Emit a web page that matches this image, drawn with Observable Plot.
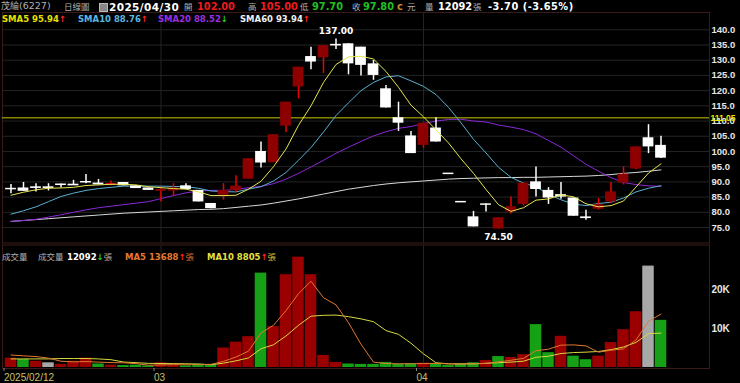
<!DOCTYPE html>
<html><head><meta charset="utf-8">
<script src="https://cdn.jsdelivr.net/npm/d3@7"></script>
<script src="https://cdn.jsdelivr.net/npm/@observablehq/plot@0.6"></script>
<style>
html,body{margin:0;padding:0;background:#000;}
#wrap{position:relative;width:740px;height:383px;overflow:hidden;background:#000;font-family:"DejaVu Sans",sans-serif;}
.t{position:absolute;white-space:nowrap;line-height:1;}
.cj{font-family:"Noto Sans CJK TC",sans-serif;color:#b0b0b0;font-size:8.5px;}
.b{font-weight:bold;font-size:9.8px;}
.lg{font-weight:bold;font-size:8.5px;}
svg{position:absolute;left:0;}
</style></head><body><div id="wrap"></div>
<script>
// ---- data ----
const dates = ["2025/02/12","2025/02/13","2025/02/14","2025/02/17","2025/02/18","2025/02/19","2025/02/20","2025/02/21","2025/02/24","2025/02/25","2025/02/26","2025/02/27",
"2025/03/03","2025/03/04","2025/03/05","2025/03/06","2025/03/07","2025/03/10","2025/03/11","2025/03/12","2025/03/13","2025/03/14","2025/03/17","2025/03/18","2025/03/19","2025/03/20","2025/03/21","2025/03/24","2025/03/25","2025/03/26","2025/03/27","2025/03/28","2025/03/31",
"2025/04/01","2025/04/02","2025/04/07","2025/04/08","2025/04/09","2025/04/10","2025/04/11","2025/04/14","2025/04/15","2025/04/16","2025/04/17","2025/04/18","2025/04/21","2025/04/22","2025/04/23","2025/04/24","2025/04/25","2025/04/28","2025/04/29","2025/04/30"];
const open  = [87.8,88.0,88.3,88.3,89.3,89.2,90.1,89.6,89.3,89.8,88.7,88.0,86.9,87.0,88.7,87.2,82.9,85.6,87.2,90.9,100.0,96.3,108.3,121.2,131.2,130.8,135.2,135.4,134.3,128.8,120.6,111.1,105.1,102.0,107.7,92.8,83.5,78.5,82.7,74.5,80.1,82.6,90.0,87.2,85.8,84.7,78.4,81.0,83.4,89.6,94.2,104.5,102.0];
const high  = [89.1,89.8,89.4,89.4,89.3,90.5,92.4,90.8,90.3,89.8,88.7,88.0,88.3,89.4,89.4,87.2,82.9,89.4,92.0,97.6,103.1,105.5,116.2,127.7,134.3,134.8,137.0,135.4,134.3,129.9,121.7,116.2,106.6,109.3,111.1,92.8,83.5,80.3,82.7,78.2,85.0,89.6,94.9,88.1,89.8,84.7,80.7,84.5,89.8,94.9,101.5,108.8,105.0];
const low   = [86.1,86.9,86.7,87.0,88.0,88.9,89.4,89.0,88.7,88.7,87.8,87.2,83.4,85.3,87.5,83.4,81.2,84.0,86.5,90.9,94.6,96.3,106.2,117.3,126.9,125.6,133.5,125.2,124.8,123.4,114.3,106.6,99.3,101.1,103.1,92.8,83.5,75.2,80.1,74.5,79.4,82.1,85.0,82.6,84.3,78.7,77.4,80.7,82.9,89.0,94.0,99.3,97.7];
const close = [87.8,86.9,88.2,88.2,88.8,89.0,90.0,89.0,89.4,88.7,87.8,87.2,87.5,88.0,87.5,83.4,81.2,87.2,88.6,97.6,96.2,105.5,116.2,127.7,129.4,134.8,135.0,128.8,128.3,125.0,114.3,109.3,99.3,109.3,103.1,92.8,83.5,75.2,82.7,78.2,81.8,89.6,87.5,84.7,85.0,78.7,78.3,82.5,86.7,92.5,101.5,101.5,97.8];
const prevClose0 = 87.5;
const volume = [2400,2050,1600,1200,800,1600,2400,900,600,500,600,400,1200,900,400,850,700,5000,6500,7900,24200,10500,23800,28300,23800,3100,1300,900,800,800,1300,900,1000,1100,1000,500,900,1200,1800,2800,2600,3300,11000,3800,8000,2900,2000,2900,6400,9700,14300,26000,12092];
const sma5  = [85.6,86.6,87.4,87.9,88.0,88.2,88.8,89.0,89.2,89.2,89.0,88.4,88.1,87.8,87.6,86.7,85.5,85.5,85.6,87.6,90.2,95.0,100.8,108.6,115.0,122.7,128.6,131.1,131.3,130.4,126.3,121.1,115.2,111.4,107.1,102.8,97.6,92.8,87.5,82.5,80.3,81.5,84.0,84.4,85.7,85.1,82.8,81.8,82.2,83.7,88.3,92.9,95.94];
const sma10 = [79.4,80.5,81.8,83.5,85.2,86.3,87.2,87.8,88.2,88.6,88.6,88.6,88.6,88.5,88.4,87.9,87.0,86.8,86.7,87.6,88.4,90.3,93.1,97.1,101.3,106.4,111.8,116.0,120.0,122.7,124.5,124.9,123.2,121.4,118.7,114.5,109.4,104.0,99.5,94.8,91.5,89.6,88.4,85.9,84.1,82.7,82.2,82.9,83.3,84.7,86.7,87.9,88.76];
const sma20 = [77.0,77.3,77.7,78.4,79.2,80.0,80.8,81.5,82.0,82.5,83.0,83.5,84.5,85.5,86.4,87.0,87.2,87.2,87.5,88.1,88.5,89.4,90.9,92.8,94.9,97.1,99.4,101.4,103.3,105.1,106.5,107.6,108.2,109.2,110.0,110.5,110.6,110.0,109.7,108.7,108.0,107.2,105.8,103.6,101.4,98.6,95.8,93.5,91.4,89.8,89.1,88.7,88.52];
const sma60 = [77.0,77.3,77.6,77.9,78.2,78.5,78.8,79.1,79.4,79.7,79.9,80.1,80.3,80.5,80.7,80.9,81.0,81.2,81.6,82.0,82.4,83.0,83.7,84.4,85.2,86.0,86.8,87.6,88.2,88.8,89.3,89.7,90.0,90.3,90.6,90.9,91.1,91.2,91.3,91.4,91.4,91.5,91.5,91.6,91.7,91.8,91.9,92.1,92.4,92.8,93.1,93.5,93.94];
const volMa5  = [3200,3000,2800,2400,1610,1450,1520,1380,1260,1200,1000,600,660,720,700,750,810,1570,2690,4190,8860,10820,14580,18940,22120,17900,16060,11480,5980,1380,1020,940,960,1020,1060,900,900,940,1080,1440,1860,2340,4300,4700,5740,5800,5540,3920,4440,4780,7060,11860,13688];
const volMa10 = [2200,2200,2200,2200,2300,2300,2300,2200,2000,1410,1230,1060,1020,990,950,880,710,1120,1710,2450,4810,5820,8080,10820,13160,13380,13440,13030,12460,11750,9460,8500,6220,3500,1220,960,920,950,1050,1250,1380,1620,2620,2890,3590,3830,3940,4110,4570,5260,6430,8700,8805];
const priceTicks = [75,80,85,90,95,100,105,110,115,120,125,130,135,140];
const volTicks = [10000,20000];
const xTickIdx = [0,12,33];
const xTickLabels = ["2025/02/12","03","04"];
const refLine = 111.05;

// ---- build ----
const candles = dates.map((d,i)=>({i,date:d,o:open[i],h:high[i],l:low[i],c:close[i],v:volume[i],
  pc: i===0 ? prevClose0 : close[i-1]}));
const up = d => d.c > d.o;
const RED_BODY = "#8e0000", RED_WICK = "#f00000", WHITE = "#ffffff";
const GREEN_VOL = "#15a015", RED_VOL = "#9a0000", GREY_VOL = "#a8a8a8";
const volColor = d => d.c > d.pc ? RED_VOL : d.c < d.pc ? GREEN_VOL : GREY_VOL;
const hw = 0.43;
const lineOf = arr => arr.map((v,i)=>({i,v}));
const AX = {fill:"#e6e6e6", fontWeight:"bold", fontSize:9.5, fontFamily:"Liberation Sans"};

const wrap = document.getElementById("wrap");

const price = Plot.plot({
  width:740, height:243, marginLeft:2, marginRight:31, marginTop:12, marginBottom:0.5,
  style:{background:"transparent", color:"#ddd", overflow:"visible"},
  x:{type:"linear", domain:[0,52], range:[10.5,660.5], axis:null},
  y:{domain:[75,140], range:[227,29.3], axis:null},
  marks:[
    Plot.ruleY(priceTicks,{stroke:"#242424",strokeWidth:1}),
    Plot.ruleX(xTickIdx.slice(1),{stroke:"#242424"}),
    Plot.frame({stroke:"#3b1a1a"}),
    Plot.text(priceTicks,{y:d=>d, frameAnchor:"right", dx:2, textAnchor:"start", text:d=>d.toFixed(1), ...AX}),
    Plot.ruleY([refLine],{stroke:"#c8c800",strokeWidth:1}),
    Plot.text([refLine],{y:d=>d, frameAnchor:"right", dx:1, textAnchor:"start", text:d=>d.toFixed(2), ...AX, fontSize:8.5, fill:"#e8e800"}),
    Plot.line(lineOf(sma60),{x:"i",y:"v",stroke:"#d8d8d8",strokeWidth:1}),
    Plot.line(lineOf(sma20),{x:"i",y:"v",stroke:"#8a28d8",strokeWidth:1}),
    Plot.line(lineOf(sma10),{x:"i",y:"v",stroke:"#5ab0d0",strokeWidth:1}),
    Plot.ruleX(candles,{x:"i",y1:"l",y2:"h",stroke:d=>up(d)?RED_WICK:WHITE,strokeWidth:1.5}),
    Plot.rect(candles,{x1:d=>d.i-hw,x2:d=>d.i+hw,y1:"o",y2:"c",fill:d=>up(d)?RED_BODY:WHITE}),
    Plot.ruleY(candles.filter(d=>Math.abs(d.o-d.c)<0.5),{y:d=>(d.o+d.c)/2,x1:d=>d.i-hw,x2:d=>d.i+hw,stroke:d=>up(d)?RED_WICK:WHITE,strokeWidth:1.5}),
    Plot.line(lineOf(sma5),{x:"i",y:"v",stroke:"#e6e650",strokeWidth:1}),
    Plot.text(candles.filter(d=>d.h===d3.max(high)),{x:"i",y:"h",text:d=>d.h.toFixed(2),dy:-8,...AX,fontFamily:"DejaVu Sans",fontSize:9,fill:"#fff"}),
    Plot.text(candles.filter(d=>d.l===d3.min(low)),{x:"i",y:"l",text:d=>d.l.toFixed(2),dy:8,...AX,fontFamily:"DejaVu Sans",fontSize:9,fill:"#fff"})
  ]
});
price.style.top = "0px";
wrap.appendChild(price);

const vol = Plot.plot({
  width:740, height:139, marginLeft:2, marginRight:31, marginTop:0.5, marginBottom:15,
  style:{background:"transparent", color:"#ddd", overflow:"visible"},
  x:{type:"linear", domain:[0,52], range:[10.5,660.5], axis:null},
  y:{domain:[0,20000], range:[123,45], axis:null},
  marks:[
    Plot.ruleX(xTickIdx.slice(1),{stroke:"#242424"}),
    Plot.frame({stroke:"#3b1a1a"}),
    Plot.text(volTicks,{y:d=>d, frameAnchor:"right", dx:2, textAnchor:"start", text:d=>d/1000+"K", ...AX, fontSize:10}),
    Plot.rect(candles,{x1:d=>d.i-0.5,x2:d=>d.i+0.5,y1:0,y2:"v",fill:volColor,insetLeft:0.5,insetRight:0.5}),
    Plot.line(lineOf(volMa10),{x:"i",y:"v",stroke:"#d8d840",strokeWidth:1}),
    Plot.line(lineOf(volMa5),{x:"i",y:"v",stroke:"#e07830",strokeWidth:1}),
    Plot.axisX(xTickIdx,{anchor:"bottom", label:null, tickSize:3, stroke:"#888", tickFormat:d=>xTickLabels[xTickIdx.indexOf(d)], fill:"#c8c070", fontSize:10, fontFamily:"Liberation Sans", textAnchor:"start", dx:-7, tickPadding:2})
  ]
});
vol.style.top = "244px";
wrap.appendChild(vol);

// ---- html text ----
function put(x,y,html,cls,color){const s=document.createElement("span");s.className="t "+(cls||"");s.style.left=x+"px";s.style.top=y+"px";if(color)s.style.color=color;s.innerHTML=html;wrap.appendChild(s);return s;}
// header
put(1,1,'茂綸<span style="font-family:DejaVu Sans;font-size:9.5px">(6227)</span>',"cj").style.fontSize="9px";
put(64,1.5,"日線圖","cj");
const sq=document.createElement("div");sq.style.cssText="position:absolute;left:99px;top:3px;width:7px;height:7px;background:#888;border:1px solid #bbb;";wrap.appendChild(sq);
const dt=put(109,2,"2025/04/30","b","#fff"); dt.style.fontSize="10.5px"; dt.style.letterSpacing="0.4px";
put(184,1.5,"開","cj"); put(197,2,"102.00","b","#ee1c1c");
put(248,1.5,"高","cj"); put(260,2,"105.00","b","#ee1c1c");
put(300,1.5,"低","cj"); put(312,2,"97.70","b","#22c022");
put(352,1.5,"收","cj"); put(363,2,"97.80","b","#22c022");
put(397,2,"c","b","#c88a2a"); put(407,1.5,"元","cj");
put(425,1.5,"量","cj"); put(438,2,"12092","b","#fff"); put(473,1.5,"張","cj");
const ch=put(488,2,"-3.70 (-3.65%)","b","#fff"); ch.style.letterSpacing="0.5px";
// MA legend
put(2,15,'SMA5 95.94<span style="color:#f22">↑</span>',"lg","#e8e000");
put(78,15,'SMA10 88.76<span style="color:#f22">↑</span>',"lg","#5ab8e0");
put(158,15,'SMA20 88.52<span style="color:#2c2">↓</span>',"lg","#9a30e0");
put(240,15,'SMA60 93.94<span style="color:#f22">↑</span>',"lg","#f0f0f0");
// volume legend
put(2,252,"成交量","cj");
put(38,252,"成交量","cj");
put(67,252,'12092<span style="color:#2c2">↓</span><span class="cj" style="font-weight:normal">張</span>',"lg","#fff");
put(125,252,'MA5 13688<span style="color:#f22">↑</span><span class="cj" style="font-weight:normal;color:#c87838">張</span>',"lg","#e87830");
put(207,252,'MA10 8805<span style="color:#f22">↑</span><span class="cj" style="font-weight:normal;color:#c8c840">張</span>',"lg","#e8e040");
</script></body></html>
